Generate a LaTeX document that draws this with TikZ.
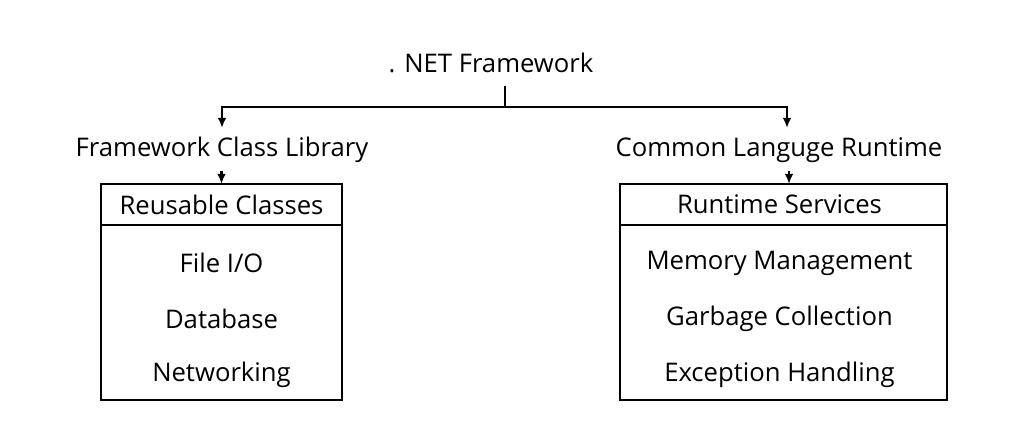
\documentclass[tikz,border=0pt]{standalone}
\usepackage{fontspec}
\setmainfont{Open Sans}
\usetikzlibrary{arrows.meta,positioning}

\begin{document}
\begin{tikzpicture}[line width=1.2pt,>={Latex[length=2.0mm,width=1.7mm]},
  txt/.style={inner sep=2pt,font=\fontsize{14.6}{17}\selectfont},
  hdr/.style={draw,line width=1.4pt,outer sep=0pt,minimum height=0.82cm,inner sep=0pt},
  body/.style={draw,line width=1.4pt,outer sep=0pt,inner sep=0pt}]
  \useasboundingbox (0,0) rectangle (20.48,8.96);
  % titulo y ramas
  \node[txt] (net) at (9.82,7.70) {. NET Framework};
  \coordinate (split) at (10.10,6.82);
  \coordinate (lbr) at (4.44,6.82);
  \coordinate (rbr) at (15.74,6.82);
  \node[txt] (fcl) at (4.44,5.96) {Framework Class Library};
  \node[txt] (clr) at (15.58,5.96) {Common Languge Runtime};
  \draw (split |- 0,7.24) -- (split);
  \draw[->] (split) -- (lbr) -- (lbr |- 0,6.40);
  \draw[->] (split) -- (rbr) -- (rbr |- 0,6.40);
  % caja izquierda
  \node[hdr,minimum width=4.82cm] (rc) at (4.43,4.87) {};
  \node[body,minimum width=4.82cm,minimum height=3.50cm,below=0pt of rc] (rcbox) {};
  \node[txt] (rct) at (rc) {Reusable Classes};
  \node[txt] (fio) at (4.43,3.70) {File I/O};
  \node[txt] (db) at (4.43,2.58) {Database};
  \node[txt] (nw) at (4.43,1.46) {Networking};
  \draw[->] (fcl.south -| rc.north) ++(0,-0.08) -- (rc.north);
  % caja derecha
  \node[hdr,minimum width=6.54cm] (rs) at (15.67,4.87) {};
  \node[body,minimum width=6.54cm,minimum height=3.50cm,below=0pt of rs] (rsbox) {};
  \node[txt] (rst) at (15.59,4.87) {Runtime Services};
  \node[txt] (mm) at (15.59,3.70) {Memory Management};
  \node[txt] (gc) at (15.59,2.58) {Garbage Collection};
  \node[txt] (eh) at (15.59,1.46) {Exception Handling};
  \draw[->] (clr.south -| 15.78,0) ++(0,-0.08) -- (15.78,5.28);
\end{tikzpicture}
\end{document}
